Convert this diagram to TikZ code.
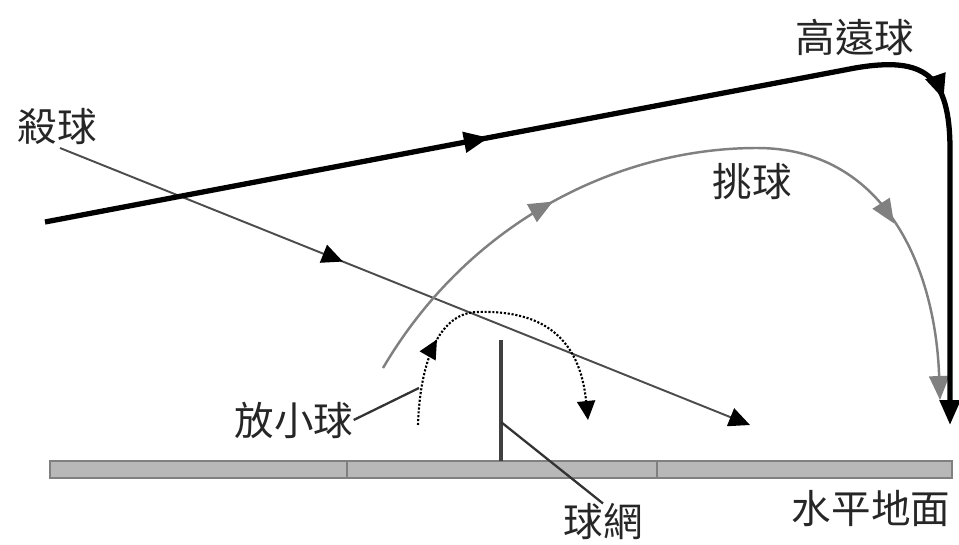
\documentclass[tikz,border=0pt]{standalone}
\usepackage{fontspec}
\setmainfont{Noto Sans CJK TC}
\usetikzlibrary{arrows.meta,decorations.markings}

\begin{document}
\begin{tikzpicture}[
  x=0.02cm,y=-0.02cm,
  lbl/.style={font=\fontsize{22.5}{24}\selectfont,inner sep=0pt,text=black!85},
  midarr/.style={postaction={decorate,decoration={markings,mark=at position #1 with {\arrow{>}}}}},
  clearpath/.style={line width=3pt,black,>={Triangle[length=5mm,width=4mm]}},
  smashpath/.style={line width=1.1pt,black!70,>={Triangle[length=4.2mm,width=3.8mm,color=black]}},
  lobpath/.style={line width=1.4pt,black!50,>={Triangle[length=4.8mm,width=4mm]}},
  droppath/.style={line width=1.2pt,black,densely dotted,>={Triangle[length=3.8mm,width=3.6mm]}},
  leader/.style={line width=1.3pt,black!80},
  floorbar/.style={fill=black!28,draw=black!50,line width=1.6pt}
]
\useasboundingbox (0,0) rectangle (959,544);

\node[lbl] (clear) at (855,37) {高遠球};
\node[lbl] (smash) at (57,127) {殺球};
\node[lbl] (lob) at (752,182) {挑球};
\node[lbl] (drop) at (294,420) {放小球};
\node[lbl] (net) at (603,522) {球網};
\node[lbl] (floor) at (871,508) {水平地面};

\coordinate (netbase) at (501,461);
\coordinate (nettop) at (501,340);
\coordinate (netmid) at (501,422);
\coordinate (dropbend) at (419,388);

\draw[floorbar] (50,461) rectangle (952,478);
\draw[floorbar] (347,461) -- (347,478) (657,461) -- (657,478);
\draw[line width=2pt,black!75] (netbase) -- (nettop);
\draw[leader] (netmid) -- (net.north);
\draw[leader] (drop.east) -- (dropbend);

\draw[smashpath,->,midarr=0.41] (60,148) -- (750,425);
\draw[lobpath,->,midarr=0.3,midarr=0.77] (383,368) .. controls (470,220) and (620,148) .. (757,148)
  .. controls (880,148) and (935,260) .. (940,400);
\draw[droppath,->,midarr=0.28] (418,425) .. controls (420,360) and (440,312) .. (478,312)
  .. controls (545,310) and (580,340) .. (588,420);
\draw[clearpath,->,midarr=0.36,midarr=0.74] (45,222) -- (855,68) .. controls (925,56) and (950,75) .. (950,150)
  -- (950,425);
\end{tikzpicture}
\end{document}
